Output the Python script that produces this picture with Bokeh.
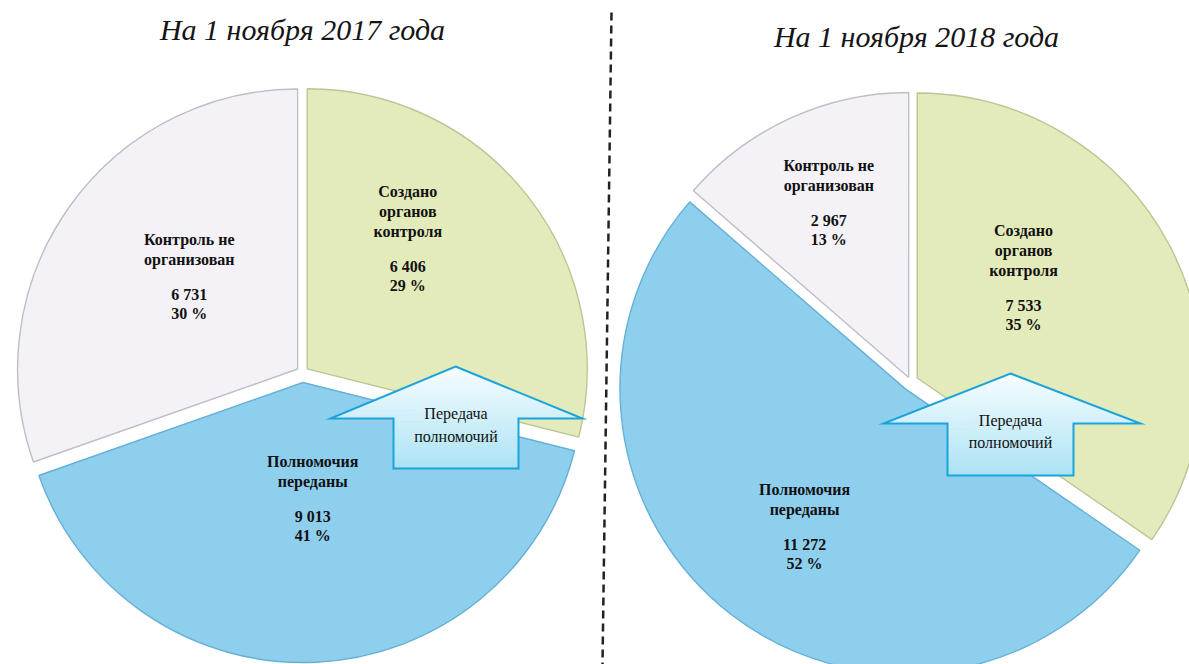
import math
from bokeh.plotting import figure
from bokeh.models import Range1d, ColumnDataSource
from bokeh.embed import file_html
from bokeh.resources import INLINE
from bokeh.core.properties import value

# ---------------- data ----------------
titles = ["На 1 ноября 2017 года", "На 1 ноября 2018 года"]
categories = ["Создано органов контроля", "Полномочия переданы", "Контроль не организован"]
category_lines = [["Создано", "органов", "контроля"],
                  ["Полномочия", "переданы"],
                  ["Контроль не", "организован"]]
counts_2017 = [6406, 9013, 6731]
counts_2018 = [7533, 11272, 2967]
pct_2017 = [29, 41, 30]
pct_2018 = [35, 52, 13]
arrow_text = ["Передача", "полномочий"]

# ---------------- style ----------------
W, H = 1189, 664
SERIF = "Liberation Serif"
fills = ["#e4ebbb", "#8ecfee", "#f4f2f7"]
edges = ["#bfc396", "#66b0d6", "#bfbdc8"]

pies = [
    dict(title=titles[0], counts=counts_2017, pcts=pct_2017,
         cx=302, cy=372, r=280, explode=[6, 10, 6],
         lab=[(0.61, -14), (0.45, -2), (0.53, 5)],
         title_xy=(302, 29),
         arrow=dict(tip=(455, 366), wy=418, lx=330, rx=582, bl=393, br=518, by=468, ty=(413, 436))),
    dict(title=titles[1], counts=counts_2018, pcts=pct_2018,
         cx=910, cy=381, r=285, explode=[7.6, 9, 4.4],
         lab=[(0.54, -15), (0.63, -1.6), (0.69, 0)],
         title_xy=(916, 36),
         arrow=dict(tip=(1010, 373), wy=423, lx=883, rx=1140, bl=947, br=1073, by=475, ty=(420, 442))),
]


def Y(s):
    return H - s


p = figure(width=W, height=H, x_range=Range1d(0, W), y_range=Range1d(0, H),
           output_backend="svg", toolbar_location=None, min_border=0,
           x_axis_location=None, y_axis_location=None)
p.grid.visible = False
p.outline_line_color = None
p.background_fill_color = "white"
p.border_fill_color = "white"


def clip(poly, y0, keep_above):
    # screen coords; keep points with y >= y0 if keep_above else y <= y0
    out = []
    n = len(poly)
    inside = (lambda pt: pt[1] >= y0) if keep_above else (lambda pt: pt[1] <= y0)
    for i in range(n):
        a = poly[i]
        b = poly[(i + 1) % n]
        ia, ib = inside(a), inside(b)
        if ia:
            out.append(a)
        if ia != ib:
            t = (y0 - a[1]) / (b[1] - a[1])
            out.append((a[0] + t * (b[0] - a[0]), y0))
    return out


def mix(c1, c2, t):
    a = [int(c1[i:i + 2], 16) for i in (1, 3, 5)]
    b = [int(c2[i:i + 2], 16) for i in (1, 3, 5)]
    return "#%02x%02x%02x" % tuple(round(a[k] + (b[k] - a[k]) * t) for k in range(3))


for pie in pies:
    total = sum(pie["counts"])
    theta = 0.0
    wx, wy, rr, sa, ea, fc, lc = [], [], [], [], [], [], []
    label_rows = dict(x=[], y=[], text=[])
    for i, v in enumerate(pie["counts"]):
        span = 360.0 * v / total
        t0, t1 = theta, theta + span
        tm = (t0 + t1) / 2
        d = pie["explode"][i]
        x = pie["cx"] + d * math.sin(math.radians(tm))
        y = Y(pie["cy"]) + d * math.cos(math.radians(tm))
        wx.append(x); wy.append(y); rr.append(pie["r"])
        sa.append(90 - t0); ea.append(90 - t1)
        fc.append(fills[i]); lc.append(edges[i])
        # label block
        frac, dth = pie["lab"][i]
        la = math.radians(tm + dth)
        lxp = pie["cx"] + frac * pie["r"] * math.sin(la)
        lyp = pie["cy"] - frac * pie["r"] * math.cos(la)
        lines = category_lines[i]
        offs = [k * 20 for k in range(len(lines))]
        base = offs[-1] + 35
        offs += [base, base + 19]
        texts = lines + [f"{v:,}".replace(",", " "), f"{pie['pcts'][i]} %"]
        top = lyp - offs[-1] / 2
        for o, t in zip(offs, texts):
            label_rows["x"].append(lxp)
            label_rows["y"].append(Y(top + o))
            label_rows["text"].append(t)
        theta = t1
    src = ColumnDataSource(dict(x=wx, y=wy, r=rr, sa=sa, ea=ea, fc=fc, lc=lc))
    p.wedge(x="x", y="y", radius="r", start_angle="sa", end_angle="ea",
            start_angle_units="deg", end_angle_units="deg", direction="clock",
            fill_color="fc", line_color="lc", line_width=1.4, source=src)
    p.text(x="x", y="y", text="text", source=ColumnDataSource(label_rows),
           text_font=value(SERIF), text_font_style="bold", text_font_size="16px",
           text_align="center", text_baseline="middle", text_color="#111111")

    # title
    tx, ty = pie["title_xy"]
    p.text(x=[tx], y=[Y(ty)], text=[pie["title"]], text_font=value(SERIF),
           text_font_style="italic", text_font_size="30px", text_align="center",
           text_baseline="middle", text_color="#151515")

    # block arrow with vertical gradient
    a = pie["arrow"]
    poly = [a["tip"], (a["rx"], a["wy"]), (a["br"], a["wy"]), (a["br"], a["by"]),
            (a["bl"], a["by"]), (a["bl"], a["wy"]), (a["lx"], a["wy"])]
    y_top, y_bot = a["tip"][1], a["by"]
    nb = 28
    bxs, bys, bcs = [], [], []
    for k in range(nb):
        s0 = y_top + (y_bot - y_top) * k / nb
        s1 = y_top + (y_bot - y_top) * (k + 1) / nb + 0.6
        part = clip(clip(poly, s0, True), min(s1, y_bot), False)
        if len(part) >= 3:
            bxs.append([q[0] for q in part])
            bys.append([Y(q[1]) for q in part])
            bcs.append(mix("#f6fdff", "#ade3f5", k / (nb - 1)))
    p.patches(xs=bxs, ys=bys, fill_color=bcs, line_color=None)
    p.patch(x=[q[0] for q in poly], y=[Y(q[1]) for q in poly], fill_color=None,
            line_color="#1ba3db", line_width=2, line_join="miter")
    cxa = (a["bl"] + a["br"]) / 2
    p.text(x=[cxa, cxa], y=[Y(a["ty"][0]), Y(a["ty"][1])], text=arrow_text,
           text_font=value(SERIF), text_font_size="16px", text_align="center",
           text_baseline="middle", text_color="#111111")

# dashed separator
p.segment(x0=[611], y0=[Y(12)], x1=[602], y1=[Y(664)], line_dash="8 5",
          line_width=2.5, line_color="#222222")

open("out.html", "w").write(file_html(p, INLINE))
